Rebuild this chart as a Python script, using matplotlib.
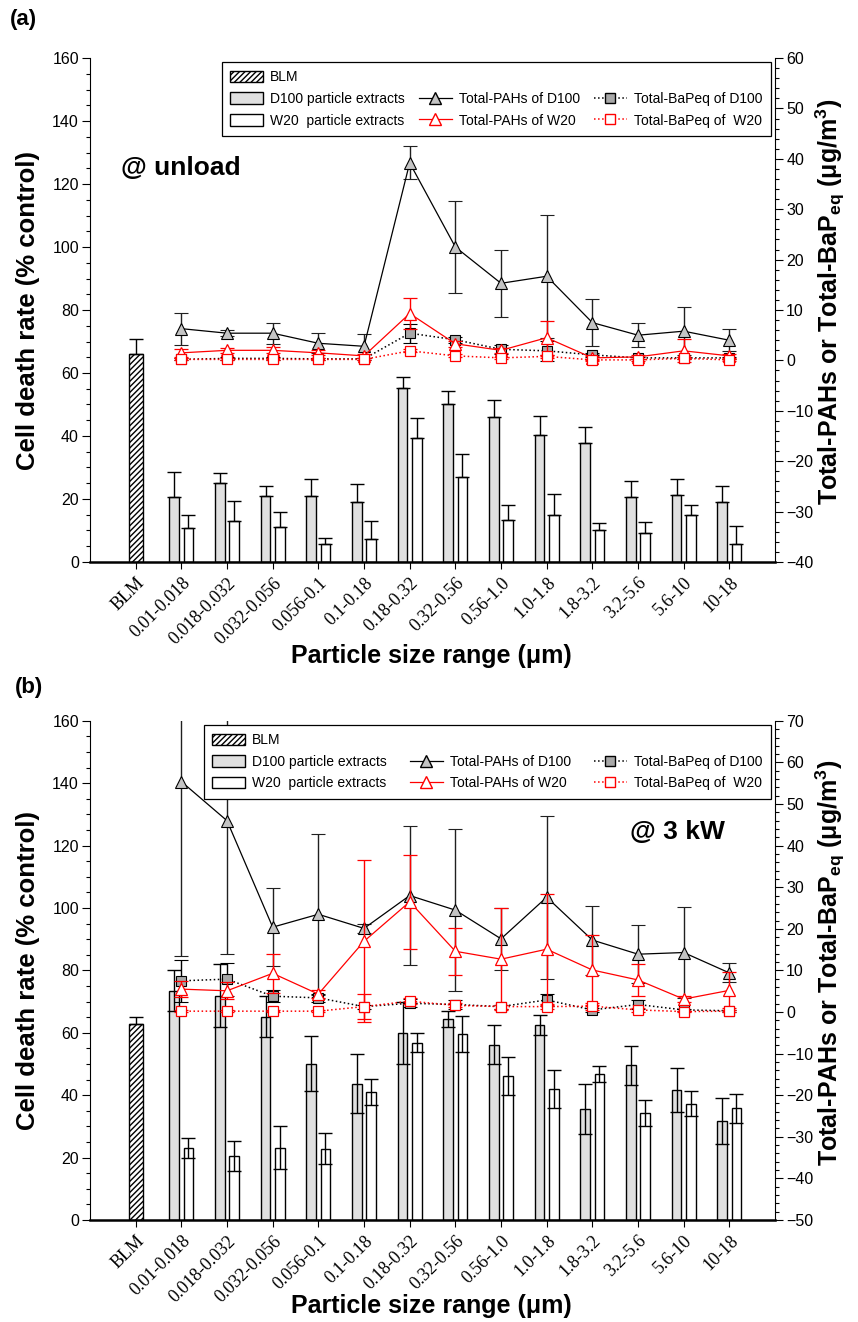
import matplotlib.pyplot as plt
import numpy as np
from matplotlib.patches import Patch
from matplotlib.lines import Line2D
from matplotlib.ticker import MultipleLocator

plt.rcParams['font.family'] = ['Liberation Sans', 'DejaVu Sans']
plt.rcParams['mathtext.fontset'] = 'custom'
plt.rcParams['mathtext.rm'] = 'Liberation Sans:bold'
plt.rcParams['mathtext.bf'] = 'Liberation Sans:bold'
plt.rcParams['mathtext.default'] = 'bf'
plt.rcParams['hatch.linewidth'] = 1.0

#************  DATA  ********#
sizes = ['BLM', '0.01-0.018', '0.018-0.032', '0.032-0.056', '0.056-0.1', '0.1-0.18',
         '0.18-0.32', '0.32-0.56', '0.56-1.0', '1.0-1.8', '1.8-3.2', '3.2-5.6', '5.6-10', '10-18']

# (a) unload
blm_a, blm_a_err = 65.9, 5.0
d100_a = [20.7, 25.0, 21.1, 20.9, 18.9, 55.1, 50.2, 45.9, 40.4, 37.8, 20.6, 21.3, 18.9]
d100_a_err = [8.0, 3.2, 3.0, 5.6, 6.0, 3.5, 4.2, 5.5, 5.9, 5.2, 5.0, 5.2, 5.3]
w20_a = [10.7, 12.9, 11.0, 5.6, 7.3, 39.4, 26.9, 13.2, 14.8, 10.1, 9.2, 14.8, 5.7]
w20_a_err = [4.2, 6.6, 5.0, 2.1, 5.6, 6.4, 7.4, 4.8, 6.8, 2.2, 3.5, 3.4, 5.7]
pah_d100_a = [6.3, 5.4, 5.4, 3.4, 2.8, 39.2, 22.5, 15.3, 16.7, 7.5, 5.0, 5.8, 4.0]
pah_d100_a_err = [3.2, 0.6, 2.1, 2.0, 2.4, 3.3, 9.1, 6.6, 12.2, 4.7, 2.4, 4.8, 2.2]
pah_w20_a = [1.5, 2.0, 2.0, 1.5, 0.9, 9.3, 3.3, 2.0, 4.5, 0.5, 0.7, 1.9, 0.9]
pah_w20_a_err = [0.8, 0.5, 0.6, 0.5, 0.4, 3.1, 0.6, 0.5, 3.4, 0.4, 0.4, 2.3, 0.4]
bap_d100_a = [0.2, 0.4, 0.4, 0.3, 0.3, 5.4, 4.1, 2.2, 1.9, 1.1, 0.5, 0.5, 0.5]
bap_d100_a_err = [0.2, 0.3, 0.3, 0.2, 0.2, 1.9, 0.6, 0.9, 2.0, 0.4, 0.2, 0.2, 0.2]
bap_w20_a = [0.2, 0.2, 0.2, 0.2, 0.2, 1.9, 0.9, 0.5, 0.8, 0.1, 0.1, 0.4, 0.1]
bap_w20_a_err = [0.2, 0.2, 0.2, 0.2, 0.2, 0.3, 0.3, 0.2, 0.3, 0.2, 0.2, 0.2, 0.2]

# (b) 3 kW
blm_b, blm_b_err = 62.8, 2.2
d100_b = [73.5, 71.9, 65.1, 50.1, 43.7, 60.0, 64.4, 56.2, 62.5, 35.6, 49.6, 41.7, 31.8]
d100_b_err = [6.6, 10.0, 6.6, 8.9, 9.4, 9.9, 2.7, 6.3, 3.1, 7.9, 6.3, 7.1, 7.4]
w20_b = [23.0, 20.5, 23.1, 22.9, 41.0, 56.8, 59.6, 46.1, 41.9, 46.8, 34.2, 37.3, 35.8]
w20_b_err = [3.2, 4.9, 6.9, 4.9, 4.1, 3.1, 5.9, 6.2, 6.1, 2.5, 4.1, 4.0, 4.6]
pah_d100_b = [55.4, 46.0, 20.4, 23.5, 20.1, 28.0, 24.5, 17.6, 27.6, 17.3, 13.9, 14.3, 9.4]
pah_d100_b_err = [42.0, 32.0, 9.3, 19.3, 1.0, 16.7, 19.4, 7.5, 19.6, 8.3, 6.9, 11.0, 2.3]
pah_w20_b = [5.5, 5.1, 9.3, 4.3, 17.0, 26.5, 14.6, 12.7, 15.1, 10.1, 7.7, 3.1, 5.2]
pah_w20_b_err = [2.0, 2.0, 4.7, 1.0, 19.5, 11.3, 5.6, 12.3, 13.2, 8.4, 3.8, 0.8, 4.3]
bap_d100_b = [7.5, 7.9, 3.8, 3.4, 1.3, 2.1, 1.8, 1.3, 2.9, 0.5, 1.8, 0.5, 0.3]
bap_d100_b_err = [5.0, 4.0, 1.5, 1.0, 0.5, 1.0, 1.0, 0.5, 1.5, 0.5, 1.0, 0.3, 0.3]
bap_w20_b = [0.2, 0.2, 0.2, 0.2, 1.3, 2.6, 1.6, 1.3, 1.3, 1.4, 0.5, 0.1, 0.2]
bap_w20_b_err = [0.3, 0.3, 0.3, 0.3, 3.0, 0.7, 0.5, 0.5, 0.5, 0.8, 0.5, 0.2, 0.2]

GRAY_BAR = '#e0e0e0'
GRAY_TRI = '#c4c4c4'
GRAY_SQ = '#a8a8a8'


def panel(rect, blm, blm_err, d100, d100_err, w20, w20_err,
          pd, pd_err, pw, pw_err, bd, bd_err, bw, bw_err,
          rlim, rmin, up_only, leg_box, tag, tag_xy):
    ax = fig.add_axes(rect)
    x = np.arange(1, len(sizes))
    w = 0.21
    off = 0.155

    # bars
    ax.bar(0, blm, width=0.3, color='white', edgecolor='black', hatch='//////', lw=1, zorder=2)
    ax.bar(x - off, d100, width=w, color=GRAY_BAR, edgecolor='black', lw=1, zorder=2)
    ax.bar(x + off, w20, width=w, color='white', edgecolor='black', lw=1, zorder=2)
    lo = np.zeros(len(x))
    ax.errorbar(0, blm, yerr=[[0], [blm_err]], fmt='none', ecolor='black', elinewidth=1, capsize=5, zorder=3)
    ax.errorbar(x - off, d100, yerr=[lo, d100_err] if up_only else d100_err, fmt='none',
                ecolor='black', elinewidth=1, capsize=5, zorder=3)
    ax.errorbar(x + off, w20, yerr=[lo, w20_err] if up_only else w20_err, fmt='none',
                ecolor='black', elinewidth=1, capsize=5, zorder=3)

    ax.set_xlim(-1, 14)
    ax.set_ylim(0, 160)
    ax.set_xticks(range(len(sizes)))
    ax.set_xticklabels(sizes, rotation=45, ha='right', rotation_mode='anchor',
                       family='Liberation Serif', fontsize=13)
    ax.yaxis.set_major_locator(MultipleLocator(20))
    ax.yaxis.set_minor_locator(MultipleLocator(5))
    ax.tick_params(axis='y', which='major', length=6, labelsize=11.5, width=0.8, pad=2)
    ax.tick_params(axis='y', which='minor', length=3, width=0.8)
    ax.tick_params(axis='x', length=5, width=0.8, pad=4)
    ax.spines['top'].set_visible(False)
    ax.spines['right'].set_visible(False)
    ax.spines['bottom'].set_linewidth(1.8)
    ax.spines['left'].set_linewidth(0.8)

    # lines on right axis
    ax2 = ax.twinx()
    ax2.errorbar(x, pd, yerr=pd_err, color='black', lw=0.9, marker='^', ms=8, mfc=GRAY_TRI,
                 mec='black', mew=0.8, ecolor='#202020', elinewidth=1, capsize=5, zorder=3)
    ax2.errorbar(x, bd, yerr=bd_err, color='black', lw=1.1, ls=':', marker='s', ms=7, mfc=GRAY_SQ,
                 mec='black', mew=0.8, ecolor='black', elinewidth=1, capsize=5, zorder=3)
    ax2.errorbar(x, pw, yerr=pw_err, color='red', lw=0.9, marker='^', ms=8, mfc='white',
                 mec='red', mew=0.9, ecolor='red', elinewidth=1, capsize=5, zorder=4)
    ax2.errorbar(x, bw, yerr=bw_err, color='red', lw=1.1, ls=':', marker='s', ms=7, mfc='white',
                 mec='red', mew=0.9, ecolor='red', elinewidth=1, capsize=5, zorder=4)
    ax2.set_ylim(*rlim)
    ax2.yaxis.set_major_locator(MultipleLocator(10))
    ax2.yaxis.set_minor_locator(MultipleLocator(rmin))
    ax2.tick_params(axis='y', which='major', length=6, labelsize=11.5, width=0.8, pad=2)
    ax2.tick_params(axis='y', which='minor', length=3, width=0.8)
    ax2.spines['top'].set_visible(False)
    ax2.spines['left'].set_visible(False)
    ax2.spines['bottom'].set_visible(False)
    ax2.spines['right'].set_linewidth(0.8)

    blank = Line2D([], [], ls='none')
    handles = [Patch(facecolor='white', edgecolor='black', hatch='//////'),
               Patch(facecolor=GRAY_BAR, edgecolor='black'),
               Patch(facecolor='white', edgecolor='black'),
               blank,
               Line2D([], [], color='black', lw=0.9, marker='^', ms=8, mfc=GRAY_TRI, mec='black'),
               Line2D([], [], color='red', lw=0.9, marker='^', ms=8, mfc='white', mec='red'),
               blank,
               Line2D([], [], color='black', lw=1.1, ls=':', marker='s', ms=7, mfc=GRAY_SQ, mec='black'),
               Line2D([], [], color='red', lw=1.1, ls=':', marker='s', ms=7, mfc='white', mec='red')]
    labels = ['BLM', 'D100 particle extracts', 'W20  particle extracts', ' ',
              'Total-PAHs of D100', 'Total-PAHs of W20', ' ',
              'Total-BaPeq of D100', 'Total-BaPeq of  W20']
    leg = ax2.legend(handles, labels, ncol=3, loc='upper left', bbox_to_anchor=leg_box,
                     mode='expand', fontsize=10, frameon=True, fancybox=False,
                     edgecolor='black', framealpha=1, handlelength=2.4, handleheight=0.9,
                     handletextpad=0.5, columnspacing=0.6, labelspacing=0.55,
                     borderpad=0.6, numpoints=1, borderaxespad=0)
    leg.get_frame().set_linewidth(0.9)
    leg.set_zorder(10)

    ax2.text(tag_xy[0], tag_xy[1], tag, transform=ax.transAxes, fontsize=19,
             fontweight='bold', va='center', ha='left')
    return ax, ax2


#************  FIGURE  ********#
fig = plt.figure(figsize=(8.58, 13.22), dpi=100)

panel([0.1049, 0.5749, 0.7984, 0.3812], blm_a, blm_a_err, d100_a, d100_a_err, w20_a, w20_a_err,
      pah_d100_a, pah_d100_a_err, pah_w20_a, pah_w20_a_err, bap_d100_a, bap_d100_a_err,
      bap_w20_a, bap_w20_a_err, (-40, 60), 2, True,
      (0.192, 0.992, 0.802, 0.0), '@ unload', (0.045, 0.782))

panel([0.1049, 0.0772, 0.7984, 0.3775], blm_b, blm_b_err, d100_b, d100_b_err, w20_b, w20_b_err,
      pah_d100_b, pah_d100_b_err, pah_w20_b, pah_w20_b_err, bap_d100_b, bap_d100_b_err,
      bap_w20_b, bap_w20_b_err, (-50, 70), 2, False,
      (0.166, 0.992, 0.828, 0.0), '@ 3 kW', (0.788, 0.778))

# labels
fig.text(0.012, 0.985, '(a)', fontsize=16, fontweight='bold', va='center')
fig.text(0.017, 0.4796, '(b)', fontsize=16, fontweight='bold', va='center')
for yc in (0.7655, 0.2659):
    fig.text(0.033, yc, 'Cell death rate (% control)', rotation=90, fontsize=18.5,
             fontweight='bold', ha='center', va='center')
    fig.text(0.968, yc + 0.006, 'Total-PAHs or Total-BaP$_{eq}$ (μg/m$^3$)', rotation=90,
             fontsize=18, fontweight='bold', ha='center', va='center')
fig.text(0.503, 0.5035, 'Particle size range (μm)', fontsize=18, fontweight='bold',
         ha='center', va='center')
fig.text(0.503, 0.0122, 'Particle size range (μm)', fontsize=18, fontweight='bold',
         ha='center', va='center')

fig.savefig('out.png', dpi=100)
